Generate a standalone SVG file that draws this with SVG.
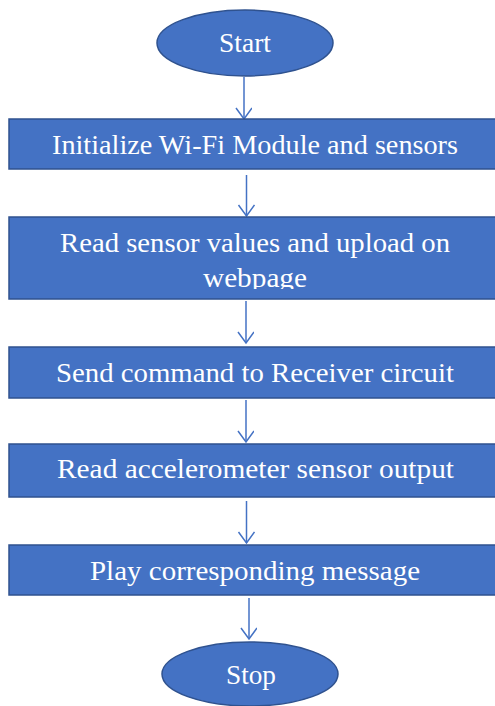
<svg xmlns="http://www.w3.org/2000/svg" width="495" height="706" viewBox="0 0 495 706">
<style>
.box{fill:#4472C4;stroke:#2F528F;stroke-width:1.5}
.lbl{font-family:"Liberation Serif","DejaVu Serif",serif;font-size:27.5px;fill:#FFFFFF;text-anchor:middle}
.conn{stroke:#4472C4;stroke-width:1.5;fill:none}
</style>
<defs>
<marker id="arr" markerUnits="userSpaceOnUse" markerWidth="20" markerHeight="20" refX="12" refY="8" orient="auto">
<path d="M1,0 L12,8 L1,16" fill="none" stroke="#4472C4" stroke-width="1.5"/>
</marker>
<clipPath id="clip2"><rect x="0" y="217" width="495" height="72"/></clipPath>
</defs>
<rect width="495" height="706" fill="#FFFFFF"/>
<g id="connectors">
<path class="conn" d="M244,77 L244,119" marker-end="url(#arr)"/>
<path class="conn" d="M246.5,175 L246.5,216" marker-end="url(#arr)"/>
<path class="conn" d="M246,301 L246,343" marker-end="url(#arr)"/>
<path class="conn" d="M246,400 L246,442" marker-end="url(#arr)"/>
<path class="conn" d="M246.5,501 L246.5,543" marker-end="url(#arr)"/>
<path class="conn" d="M249,598 L249,639" marker-end="url(#arr)"/>
</g>
<g id="start">
<ellipse class="box" cx="245" cy="43" rx="88" ry="33"/>
<text class="lbl" x="245" y="52" textLength="52" lengthAdjust="spacingAndGlyphs">Start</text>
</g>
<g id="init">
<rect class="box" x="9" y="119" width="500" height="50"/>
<text class="lbl" x="255" y="154" textLength="406" lengthAdjust="spacingAndGlyphs">Initialize Wi-Fi Module and sensors</text>
</g>
<g id="read-upload">
<rect class="box" x="9" y="217" width="500" height="82"/>
<g clip-path="url(#clip2)">
<text class="lbl" x="255" y="252" textLength="390" lengthAdjust="spacingAndGlyphs">Read sensor values and upload on</text>
<text class="lbl" x="255" y="287" textLength="104" lengthAdjust="spacingAndGlyphs">webpage</text>
</g>
</g>
<g id="send">
<rect class="box" x="9" y="347" width="500" height="51"/>
<text class="lbl" x="255" y="382" textLength="398" lengthAdjust="spacingAndGlyphs">Send command to Receiver circuit</text>
</g>
<g id="accel">
<rect class="box" x="9" y="444" width="500" height="53"/>
<text class="lbl" x="255.5" y="478" textLength="397" lengthAdjust="spacingAndGlyphs">Read accelerometer sensor output</text>
</g>
<g id="play">
<rect class="box" x="9" y="545" width="500" height="50"/>
<text class="lbl" x="255" y="580" textLength="330" lengthAdjust="spacingAndGlyphs">Play corresponding message</text>
</g>
<g id="stop">
<ellipse class="box" cx="250" cy="674" rx="88" ry="32"/>
<text class="lbl" x="251" y="684" textLength="50" lengthAdjust="spacingAndGlyphs">Stop</text>
</g>
</svg>
